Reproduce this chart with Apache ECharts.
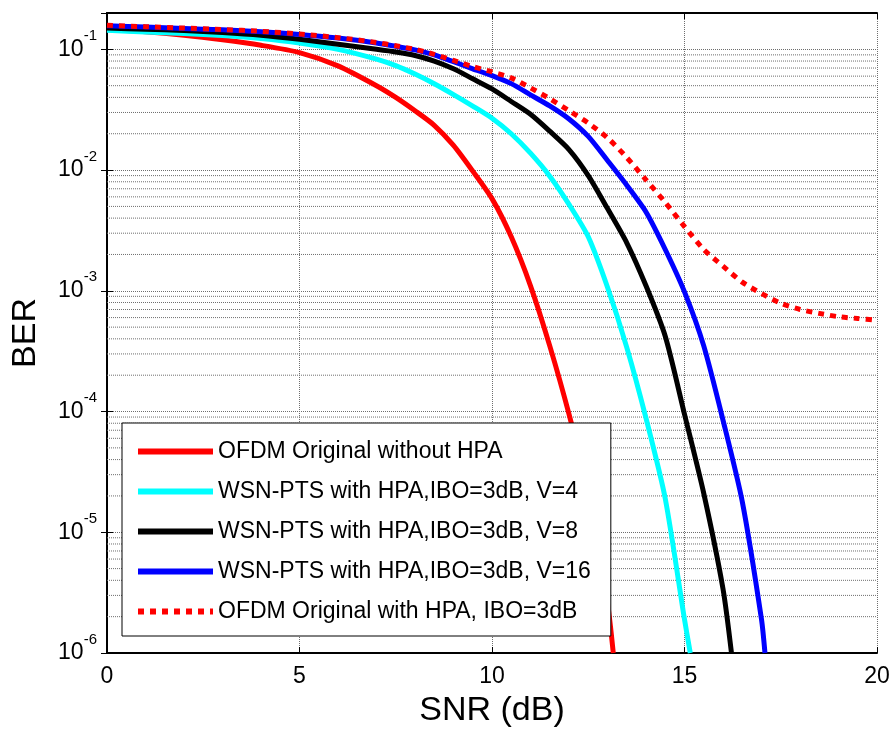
<!DOCTYPE html>
<html><head><meta charset="utf-8">
<script src="https://cdn.jsdelivr.net/npm/echarts@6/dist/echarts.min.js"></script>
<style>html,body{margin:0;padding:0;background:#fff}#c{width:893px;height:734px}</style>
</head><body><div id="c"></div>
<script>
var seriesNames = ['OFDM Original without HPA','WSN-PTS with HPA,IBO=3dB, V=4','WSN-PTS with HPA,IBO=3dB, V=8','WSN-PTS with HPA,IBO=3dB, V=16','OFDM Original with HPA, IBO=3dB'];
var snrRed = [0,1,2,3,4,5,6,7,7.5,8,8.5,9,9.5,10,10.5,11,11.5,12,12.5,13,13.15];
var berRed = [0.146,0.14,0.131,0.12,0.108,0.094,0.073,0.05,0.04,0.031,0.0235,0.016,0.0098,0.0058,0.0028,0.0011,3.5e-4,9.5e-5,2.1e-5,2.6e-6,1e-6];
var snrV4 = [0,1,2,3,4,5,6,7,7.5,8,8.5,9,9.5,10,10.5,11,11.5,12,12.5,13,13.5,14,14.5,15,15.15];
var berV4 = [0.144,0.139,0.135,0.13,0.123,0.113,0.1,0.083,0.0733,0.0624,0.0519,0.0422,0.0339,0.0269,0.02,0.0138,0.0089,0.0052,0.0028,0.00107,3.4e-4,8.8e-5,1.9e-5,1.9e-6,1e-6];
var snrV8 = [0,1,2,3,4,5,6,7,7.5,8,8.5,9,9.5,10,10.5,11,11.5,12,12.5,13,13.5,14,14.5,15,15.5,16,16.22];
var berV8 = [0.15,0.147,0.143,0.138,0.131,0.121,0.11,0.1,0.095,0.089,0.08,0.069,0.057,0.047,0.037,0.029,0.021,0.0148,0.009,0.0048,0.0025,0.0011,4.2e-4,9.5e-5,2.1e-5,3.4e-6,1e-6];
var snrV16 = [0,1,2,3,4,5,6,7,7.5,8,8.5,9,9.5,10,10.5,11,11.5,12,12.5,13,13.5,14,14.5,15,15.5,16,16.5,17,17.09];
var berV16 = [0.157,0.153,0.149,0.145,0.14,0.133,0.124,0.113,0.106,0.099,0.09,0.079,0.069,0.0605,0.052,0.042,0.034,0.0265,0.019,0.012,0.0075,0.0045,0.0022,9.8e-4,3.5e-4,8.5e-5,1.8e-5,1.9e-6,1e-6];
var snrHpa = [0,1,2,3,4,5,6,7,7.5,8,8.5,9,9.5,10,10.5,11,11.5,12,12.5,13,13.5,14,14.5,15,15.5,16,16.5,17,17.5,18,18.5,19,19.5,20];
var berHpa = [0.158,0.154,0.15,0.146,0.141,0.134,0.125,0.114,0.107,0.1,0.091,0.081,0.072,0.065,0.058,0.048,0.039,0.031,0.0245,0.0185,0.0127,0.0083,0.0054,0.0034,0.0022,0.0016,0.00118,9.5e-4,7.9e-4,7e-4,6.5e-4,6.1e-4,5.9e-4,5.7e-4];
var xMin = 0, xMax = 20, xInterval = 5;
var yMin = 1e-6, yMax = 0.2;
var minorMantissas = [2,3,4,5,6,7,8,9];
var minorDecades = [-6,-5,-4,-3,-2];

function pairs(xs, ys){ return xs.map(function(x,i){return [x, ys[i]];}); }
var minorVals = [];
minorDecades.forEach(function(d){ minorMantissas.forEach(function(m){ minorVals.push(m*Math.pow(10,d)); }); });
var minorData = [];
minorVals.forEach(function(v){ minorData.push([xMin, v], [xMax, v], [xMax, null]); });

var FONT = '"Liberation Sans", Arial, sans-serif';
var GRIDC = '#6e6e6e';
var gridLine = {show:true, lineStyle:{color:GRIDC, width:1, type:[1,1]}};
function yLabel(v){
  var e = Math.round(Math.log10(v));
  if (Math.abs(v - Math.pow(10,e)) / v > 1e-6) return '';
  return '{b|10}{s|' + e + '}';
}
var chart = echarts.init(document.getElementById('c'), null, {renderer:'canvas'});
var colors = ['#ff0000','#00ffff','#000000','#0000ff','#ff0000'];
var datasets = [pairs(snrRed,berRed), pairs(snrV4,berV4), pairs(snrV8,berV8), pairs(snrV16,berV16), pairs(snrHpa,berHpa)];
var series = [{
  name:'minor', type:'line', data:minorData, symbol:'none', showSymbol:false, silent:true, z:1,
  connectNulls:false, lineStyle:{color:GRIDC, width:1, type:[1,1]}, emphasis:{disabled:true}, tooltip:{show:false}
}];
datasets.forEach(function(d,i){
  series.push({
    name: seriesNames[i], type:'line', data:d, symbol:'none', showSymbol:false, z: 3+i,
    smooth:0.25,
    lineStyle:{color:colors[i], width:5, type: i===4 ? [6,6] : 'solid', cap:'butt', join:'round'},
    itemStyle:{color:colors[i]}
  });
});
chart.setOption({
  animation:false,
  backgroundColor:'#ffffff',
  textStyle:{fontFamily:FONT},
  grid:{left:107, top:13, right:16, bottom:81, containLabel:false, outerBoundsMode:'none'},
  legend:{
    data:seriesNames, orient:'vertical', left:122, top:423,
    backgroundColor:'#fff', borderColor:'#000', borderWidth:1,
    padding:[17,20,13,13], itemGap:17, itemWidth:75, itemHeight:14,
    itemStyle:{opacity:0},
    lineStyle:{width:6},
    textStyle:{fontSize:23, color:'#000', fontFamily:FONT, lineHeight:22}
  },
  xAxis:[{
    type:'value', min:xMin, max:xMax, interval:xInterval, position:'bottom',
    name:'SNR (dB)', nameLocation:'middle', nameGap:41,
    nameTextStyle:{fontSize:34, color:'#000', fontFamily:FONT},
    axisLine:{show:true, lineStyle:{color:'#000', width:2}},
    axisTick:{show:true, inside:true, length:6, lineStyle:{color:'#000', width:1}},
    axisLabel:{fontSize:23, color:'#000', margin:12, fontFamily:FONT},
    splitLine:gridLine
  },{
    type:'value', min:xMin, max:xMax, interval:xInterval, position:'top',
    axisLine:{show:true, lineStyle:{color:'#000', width:2}},
    axisTick:{show:true, inside:true, length:6, lineStyle:{color:'#000', width:1}},
    axisLabel:{show:false}, splitLine:{show:false}
  }],
  yAxis:[{
    type:'log', logBase:10, min:yMin, max:yMax, position:'left',
    name:'BER', nameLocation:'middle', nameGap:64, nameRotate:90,
    nameTextStyle:{fontSize:34, color:'#000', fontFamily:FONT},
    axisLine:{show:true, lineStyle:{color:'#000', width:2}},
    axisTick:{show:true, inside:true, length:6, lineStyle:{color:'#000', width:1}},
    axisLabel:{margin:10, color:'#000', formatter:yLabel,
      rich:{b:{fontSize:23, lineHeight:42, fontFamily:FONT, color:'#000', verticalAlign:'middle'},
            s:{fontSize:15, lineHeight:15, fontFamily:FONT, color:'#000', verticalAlign:'top'}}},
    splitLine:gridLine
  },{
    type:'log', logBase:10, min:yMin, max:yMax, position:'right',
    axisLine:{show:true, lineStyle:{color:'#000', width:2}},
    axisTick:{show:true, inside:true, length:6, lineStyle:{color:'#000', width:1}},
    axisLabel:{show:false}, splitLine:{show:false}
  }],
  series: series
});
</script></body></html>
